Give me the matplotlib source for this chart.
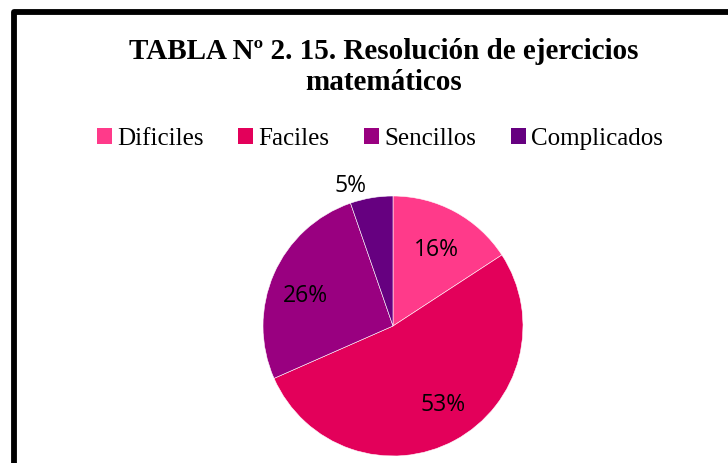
import matplotlib
matplotlib.use("Agg")
import matplotlib.pyplot as plt
from matplotlib.patches import Rectangle, Patch
import numpy as np


TITLE = "TABLA Nº 2. 15. Resolución de ejercicios\nmatemáticos"
CATEGORIES = ["Dificiles", "Faciles", "Sencillos", "Complicados"]
VALUES = [15.8, 52.6, 26.3, 5.3]
COLORS = ["#FF3A8A", "#E3005A", "#990080", "#660080"]

# label placement: radial distance and a small nudge in points
LABEL_DIST = [0.70, 0.70, 0.71, 1.15]
LABEL_NUDGE = [(0, -3), (5, 1), (-2, -5), (-13, -5)]

W, H = 728, 463

fig = plt.figure(figsize=(W / 100, H / 100), dpi=100)
fig.patch.set_facecolor("white")

# frame of the chart area: only the left and top edges are in view
frame = Rectangle((13.5 / W, -0.2), 1.2, 0.2 + 1 - 12 / H,
                  transform=fig.transFigure, fill=False,
                  edgecolor="black", linewidth=4.2, joinstyle="round",
                  clip_on=False)
fig.patches.append(frame)

fig.text(384 / W, 1 - 67 / H, TITLE, ha="center", va="center",
         fontfamily="Liberation Serif", fontweight="bold", fontsize=21,
         linespacing=1.15)

handles = [Patch(facecolor=c, edgecolor="none") for c in COLORS]
fig.legend(handles, CATEGORIES, loc="center", bbox_to_anchor=(380 / W, 1 - 139 / H),
           ncol=4, frameon=False, prop={"family": "Liberation Serif", "size": 18},
           handlelength=0.6, handleheight=0.6, handletextpad=0.2,
           columnspacing=1.4)

cx, cy, r = 393, 326, 130
ax = fig.add_axes([(cx - r) / W, (H - cy - r) / H, 2 * r / W, 2 * r / H])

wedges, _ = ax.pie(VALUES, colors=COLORS, startangle=90, counterclock=False,
                   radius=1, wedgeprops={"edgecolor": "white", "linewidth": 0.4})
ax.set_xlim(-1, 1)
ax.set_ylim(-1, 1)
ax.axis("off")
for w in wedges:
    w.set_clip_on(False)

total = sum(VALUES)
for w, v, d, nudge in zip(wedges, VALUES, LABEL_DIST, LABEL_NUDGE):
    ang = np.deg2rad((w.theta1 + w.theta2) / 2)
    ax.annotate(f"{v / total * 100:.0f}%", (d * np.cos(ang), d * np.sin(ang)),
                xytext=nudge, textcoords="offset points",
                ha="center", va="center", fontfamily="Open Sans", fontsize=16.5,
                color="black", annotation_clip=False)

fig.savefig("out.png", dpi=100)
